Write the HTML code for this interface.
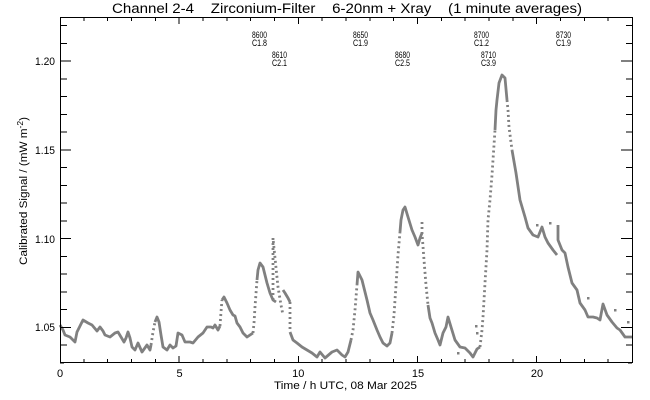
<!DOCTYPE html>
<html><head><meta charset="utf-8"><style>
html,body{margin:0;padding:0;background:#fff;}
svg{display:block;}
text{font-family:"Liberation Sans",sans-serif;fill:#000;}
</style></head><body>
<svg width="650" height="400" viewBox="0 0 650 400" xmlns="http://www.w3.org/2000/svg">
<rect width="650" height="400" fill="#fff"/>
<text x="112" y="13" font-size="13.5" textLength="470" lengthAdjust="spacingAndGlyphs" xml:space="preserve" style="white-space:pre">Channel 2-4    Zirconium-Filter    6-20nm + Xray    (1 minute averages)</text>

<g fill="none" stroke="#808080" stroke-width="2.8" stroke-linejoin="round">
<polyline points="60,325 63,330 65,335 70,337 75,342 77,332 80,326 83,320 88,323 92,325 97,331 100,327 103,331 105,335 110,337 115,333 118,332 121,337 124,342 126,338 128,332 130,338 132,347 135,350 138,343 142,352 147,345 150,350 151,345"/>
<polyline points="151,345 153,332 155,322" stroke-dasharray="2 3"/>
<polyline points="155,322 157,317 159,322 161,335 163,347 167,350 170,345 173,348 176,346 178,333 182,335 185,342 190,342 193,343 198,337 203,333 207,327 211,327 213,328 215,325 218,330 220,326"/>
<polyline points="220,326 221,312 222,300" stroke-dasharray="2 3"/>
<polyline points="222,300 224,297 227,303 230,310 233,315 235,316 237,323 240,327 243,333 247,337 250,335 253,333"/>
<polyline points="253,333 254,323 255,307 257,280" stroke-dasharray="2 3"/>
<polyline points="257,280 258,270 260,263 263,267 265,275 267,283 270,293 273,300 276,302"/>
<polyline points="273,300 273,238 275,258 278,287 281,305 283,315" stroke-dasharray="2 3"/>
<polyline points="283,290 285,293 288,298 290,302"/>
<polyline points="290,302 290,332" stroke-dasharray="2 3"/>
<polyline points="290,332 293,340 297,343 302,347 307,350 312,353 317,357 320,352 325,358 332,352 337,350 342,355 345,357 348,352 351,340"/>
<polyline points="351,340 353,330 355,310 357,285" stroke-dasharray="2 3"/>
<polyline points="357,285 358,272 362,280 367,300 370,313 373,320 377,330 380,337 383,343 387,346 390,343 392,333"/>
<polyline points="392,333 394,315 396,285 398,255 400,232" stroke-dasharray="2 3"/>
<polyline points="400,232 401,220 403,210 405,207 408,217 412,230 415,237 418,245 420,238 422,233"/>
<polyline points="422,222 422,233 424,260 426,285 428,305" stroke-dasharray="2 3"/>
<polyline points="428,305 430,318 432,323 435,333 438,340 440,345 443,333 446,327 448,317 451,327 455,340 460,347 465,348 470,353 473,357 477,349 480,347"/>
<polyline points="480,347 482,330 483,317 485,283 487,250 488,220 490,200 492,175 493,160 495,130" stroke-dasharray="2 3"/>
<polyline points="495,130 496,110 497,100 499,83 502,75 505,78 507,100"/>
<polyline points="507,100 508,110 509,127 512,150" stroke-dasharray="2 3"/>
<polyline points="512,150 516,173 520,200 525,217 528,228 533,235 538,237 542,227 545,237 548,243 553,250 557,255"/>
<polyline points="558,225 558,240 562,250 565,253 568,267 572,283 577,290 580,303 585,310 588,317 593,317 597,318 600,320 603,304 607,315 612,322 617,328 620,330 625,337 632,337"/>
</g>
<g fill="#808080">
<rect x="536" y="224" width="2.5" height="2.5"/>
<rect x="549" y="222" width="2.5" height="2.5"/>
<rect x="587" y="297" width="2.5" height="2.5"/>
<rect x="614" y="309" width="2.5" height="2.5"/>
<rect x="627" y="321" width="2.5" height="2.5"/>
<rect x="475" y="325" width="2.5" height="2.5"/>
<rect x="476" y="332" width="2.5" height="2.5"/>
<rect x="457" y="352" width="2.5" height="2.5"/>
</g>

<g stroke="#000" stroke-width="1" fill="none" shape-rendering="crispEdges">
<rect x="60.5" y="17.5" width="572" height="345"/>
<path d="M60,362.8h4M60,345h7M60,327.3h11M60,309.6h7M60,291.8h7M60,274.1h7M60,256.3h7M60,238.6h11M60,220.9h7M60,203.1h7M60,185.4h7M60,167.6h7M60,149.9h11M60,132.1h7M60,114.4h7M60,96.6h7M60,78.9h7M60,61.1h11M60,43.4h7M60,25.7h7"/>
<path d="M632,362.8h-4M632,345h-6M632,327.3h-11M632,309.6h-6M632,291.8h-6M632,274.1h-6M632,256.3h-6M632,238.6h-11M632,220.9h-6M632,203.1h-6M632,185.4h-6M632,167.6h-6M632,149.9h-11M632,132.1h-6M632,114.4h-6M632,96.6h-6M632,78.9h-6M632,61.1h-11M632,43.4h-6M632,25.7h-6"/>
<path d="M83.8,363v-4M107.7,363v-4M131.5,363v-4M155.3,363v-4M179.2,363v-7M203,363v-4M226.8,363v-4M250.6,363v-4M274.5,363v-4M298.3,363v-7M322.1,363v-4M346,363v-4M369.8,363v-4M393.6,363v-4M417.5,363v-7M441.3,363v-4M465.1,363v-4M488.9,363v-4M512.8,363v-4M536.6,363v-7M560.4,363v-4M584.3,363v-4M608.1,363v-4"/>
<path d="M83.8,17v4M107.7,17v4M131.5,17v4M155.3,17v4M179.2,17v7M203,17v4M226.8,17v4M250.6,17v4M274.5,17v4M298.3,17v7M322.1,17v4M346,17v4M369.8,17v4M393.6,17v4M417.5,17v7M441.3,17v4M465.1,17v4M488.9,17v4M512.8,17v4M536.6,17v7M560.4,17v4M584.3,17v4M608.1,17v4"/>
</g>

<g font-size="11" text-anchor="end">
<text x="55" y="65" textLength="20" lengthAdjust="spacingAndGlyphs">1.20</text>
<text x="55" y="154" textLength="20" lengthAdjust="spacingAndGlyphs">1.15</text>
<text x="55" y="243" textLength="20" lengthAdjust="spacingAndGlyphs">1.10</text>
<text x="55" y="331" textLength="20" lengthAdjust="spacingAndGlyphs">1.05</text>
</g>
<g font-size="11" text-anchor="middle">
<text x="60" y="377">0</text>
<text x="179.5" y="377">5</text>
<text x="298.3" y="377">10</text>
<text x="418" y="377">15</text>
<text x="537" y="377">20</text>
</g>
<text x="274" y="389" font-size="11" textLength="143" lengthAdjust="spacingAndGlyphs">Time / h UTC, 08 Mar 2025</text>
<text transform="translate(27,265) rotate(-90)" font-size="11" textLength="148" lengthAdjust="spacingAndGlyphs">Calibrated Signal / (mW m<tspan font-size="8" dy="-4">-2</tspan><tspan dy="4">)</tspan></text>

<g font-size="9.5">
<text x="252" y="38" textLength="15" lengthAdjust="spacingAndGlyphs">8600</text>
<text x="252" y="46" textLength="15" lengthAdjust="spacingAndGlyphs">C1.8</text>
<text x="272" y="58" textLength="15" lengthAdjust="spacingAndGlyphs">8610</text>
<text x="272" y="66" textLength="15" lengthAdjust="spacingAndGlyphs">C2.1</text>
<text x="353" y="38" textLength="15" lengthAdjust="spacingAndGlyphs">8650</text>
<text x="353" y="46" textLength="15" lengthAdjust="spacingAndGlyphs">C1.9</text>
<text x="395" y="58" textLength="15" lengthAdjust="spacingAndGlyphs">8680</text>
<text x="395" y="66" textLength="15" lengthAdjust="spacingAndGlyphs">C2.5</text>
<text x="474" y="38" textLength="15" lengthAdjust="spacingAndGlyphs">8700</text>
<text x="474" y="46" textLength="15" lengthAdjust="spacingAndGlyphs">C1.2</text>
<text x="481" y="58" textLength="15" lengthAdjust="spacingAndGlyphs">8710</text>
<text x="481" y="66" textLength="15" lengthAdjust="spacingAndGlyphs">C3.9</text>
<text x="556" y="38" textLength="15" lengthAdjust="spacingAndGlyphs">8730</text>
<text x="556" y="46" textLength="15" lengthAdjust="spacingAndGlyphs">C1.9</text>
</g>
</svg>
</body></html>
